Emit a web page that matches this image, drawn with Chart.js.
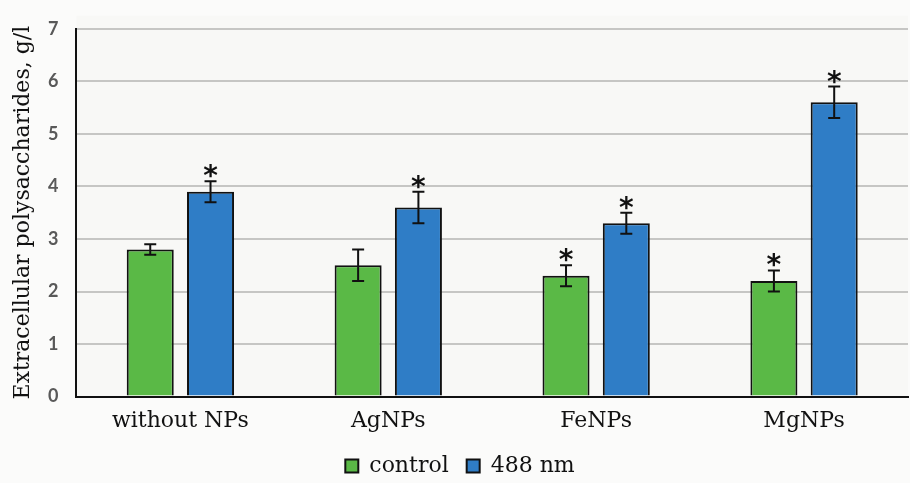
<!DOCTYPE html>
<html>
<head>
<meta charset="utf-8">
<script src="https://cdn.jsdelivr.net/npm/chart.js@4"></script>
<style>
  html, body { margin: 0; padding: 0; background: #fbfbfa; }
  #wrap { width: 910px; height: 483px; }
</style>
</head>
<body>
<div id="wrap"><canvas id="epsChart" width="910" height="483"></canvas></div>
<script>
const categories = ['without NPs', 'AgNPs', 'FeNPs', 'MgNPs'];
const controlValues = [2.8, 2.5, 2.3, 2.2];
const controlErrors = [0.1, 0.3, 0.2, 0.2];
const laserValues = [3.9, 3.6, 3.3, 5.6];
const laserErrors = [0.2, 0.3, 0.2, 0.3];
const controlStars = [false, false, true, true];
const laserStars = [true, true, true, true];
const yTicks = [0, 1, 2, 3, 4, 5, 6, 7];

const errorData = [controlErrors, laserErrors];
const starData = [controlStars, laserStars];

// фон области графика
const plotBg = {
  id: 'plotBg',
  beforeDraw(chart) {
    const { ctx, chartArea: a } = chart;
    ctx.save();
    ctx.fillStyle = '#f8f8f6';
    ctx.fillRect(a.left, a.top - 13, a.right - a.left, a.bottom - a.top + 13);
    ctx.restore();
  }
};

// планки погрешностей и звёздочки
const errorBars = {
  id: 'errorBars',
  afterDatasetsDraw(chart) {
    const { ctx } = chart;
    const y = chart.scales.y;
    chart.data.datasets.forEach((ds, di) => {
      const meta = chart.getDatasetMeta(di);
      meta.data.forEach((bar, i) => {
        const v = ds.data[i];
        const e = errorData[di][i];
        const top = y.getPixelForValue(v + e);
        const bot = y.getPixelForValue(v - e);
        ctx.save();
        ctx.strokeStyle = '#111';
        ctx.lineWidth = 2;
        ctx.beginPath();
        ctx.moveTo(bar.x, top); ctx.lineTo(bar.x, bot);
        ctx.moveTo(bar.x - 6, top); ctx.lineTo(bar.x + 6, top);
        ctx.moveTo(bar.x - 6, bot); ctx.lineTo(bar.x + 6, bot);
        ctx.stroke();
        if (starData[di][i]) {
          ctx.fillStyle = '#111';
          ctx.font = 'bold 28px "DejaVu Sans"';
          ctx.textAlign = 'center';
          ctx.textBaseline = 'alphabetic';
          ctx.fillText('*', bar.x, top + 4);
        }
        ctx.restore();
      });
    });
  }
};

new Chart(document.getElementById('epsChart'), {
  type: 'bar',
  data: {
    labels: categories,
    datasets: [
      {
        label: 'control',
        data: controlValues,
        backgroundColor: '#5ab946',
        borderColor: '#111',
        borderWidth: 2,
        barPercentage: 0.78,
        categoryPercentage: 0.58
      },
      {
        label: '488 nm',
        data: laserValues,
        backgroundColor: '#2f7dc6',
        borderColor: '#111',
        borderWidth: 2,
        barPercentage: 0.78,
        categoryPercentage: 0.58
      }
    ]
  },
  options: {
    responsive: false,
    animation: false,
    layout: { padding: { top: 1, right: 2, left: 12, bottom: -4 } },
    plugins: {
      legend: {
        position: 'bottom',
        labels: {
          color: '#111',
          boxWidth: 13,
          boxHeight: 13,
          padding: 18,
          font: { family: '"DejaVu Serif"', size: 22 }
        }
      },
      tooltip: { enabled: false }
    },
    scales: {
      x: {
        grid: { display: false },
        border: { color: '#111', width: 2 },
        ticks: {
          color: '#111',
          padding: 3,
          font: { family: '"DejaVu Serif"', size: 22 }
        }
      },
      y: {
        min: 0,
        max: 7,
        afterBuildTicks: (s) => { s.ticks = yTicks.map(v => ({ value: v })); },
        grid: { color: '#c6c6c4', lineWidth: 2, drawTicks: false },
        border: { color: '#111', width: 2 },
        ticks: {
          color: '#595959',
          padding: 18,
          font: { family: 'Lato', size: 18, weight: 'bold' }
        },
        title: {
          display: true,
          text: 'Extracellular polysaccharides, g/l',
          color: '#111',
          padding: { top: 0, bottom: -4 },
          font: { family: '"DejaVu Serif"', size: 22, lineHeight: 1 }
        }
      }
    }
  },
  plugins: [plotBg, errorBars]
});
</script>
</body>
</html>
